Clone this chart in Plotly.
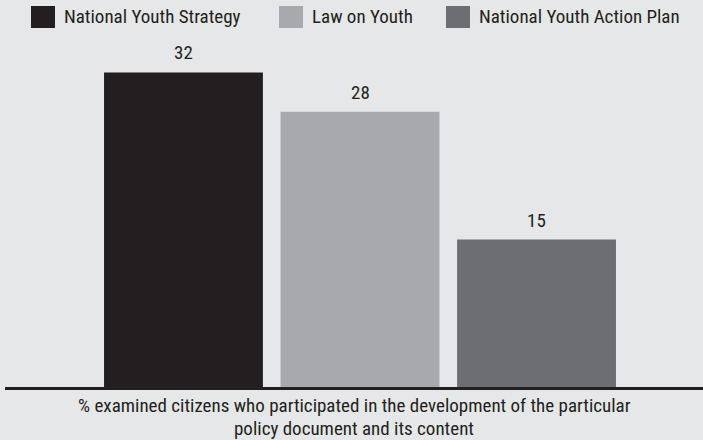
import plotly.graph_objects as go

series = ["National Youth Strategy", "Law on Youth", "National Youth Action Plan"]
values = [32, 28, 15]
positions = [0, 1, 2]
colors = ["#231f20", "#a7a9ac", "#6d6e71"]
axis_title_lines = [
    "% examined citizens who participated in the development of the particular",
    "policy document and its content",
]

FONT = "Roboto Condensed, Liberation Sans Narrow, sans-serif"
WEIGHT = 400
TXT = "#231f20"
BG = "#e6e7e8"

def fnt(size=19):
    return dict(family=FONT, size=size, color=TXT, weight=WEIGHT)

fig = go.Figure()
for name, v, x, c in zip(series, values, positions, colors):
    fig.add_trace(go.Bar(x=[x], y=[v], name=name, width=0.9,
                         marker=dict(color=c, line=dict(width=0)),
                         showlegend=False, hoverinfo="skip"))

annotations = []
for v, x in zip(values, positions):
    annotations.append(dict(x=x, y=v, xref="x", yref="y", text=str(v),
                            showarrow=False, yanchor="bottom", yshift=6,
                            font=fnt()))

# layout pixel helpers
L, W = 5, 698
T, H, BOT = 40, 347, 387
def px(xp):
    return (xp - L) / W
def py(yp):
    return (BOT - yp) / H

# axis title (two lines)
title_centers = [405, 428]
for line, yc in zip(axis_title_lines, title_centers):
    annotations.append(dict(x=0.5, xref="paper", y=py(yc), yref="paper",
                            text=line, showarrow=False, xanchor="center", yanchor="middle",
                            font=fnt()))

# custom legend
legend_sq_x = [31, 279, 446]
shapes = []
for sx, name, c in zip(legend_sq_x, series, colors):
    shapes.append(dict(type="rect", xref="paper", yref="paper",
                       x0=px(sx), x1=px(sx + 24), y0=py(28), y1=py(6),
                       fillcolor=c, line=dict(width=0)))
    annotations.append(dict(x=px(sx + 31), y=py(17), xref="paper", yref="paper",
                            text=name, showarrow=False, xanchor="left", yanchor="middle",
                            font=fnt()))

fig.update_layout(
    width=703, height=440,
    margin=dict(l=L, r=0, t=T, b=440 - BOT),
    paper_bgcolor=BG, plot_bgcolor=BG,
    barmode="overlay",
    font=fnt(),
    xaxis=dict(range=[-1.011, 2.943], showticklabels=False, ticks="",
               showgrid=False, zeroline=False, showline=True,
               linecolor="#231f20", linewidth=3, fixedrange=True),
    yaxis=dict(range=[0, 35.3], visible=False, showgrid=False, zeroline=False,
               fixedrange=True),
    annotations=annotations,
    shapes=shapes,
    showlegend=False,
)

fig.write_html("out.html", config={"displayModeBar": False})
with open("out.html") as fh:
    s = fh.read()
s = s.replace("<body>", '<body style="margin:0">', 1)
with open("out.html", "w") as fh:
    fh.write(s)
